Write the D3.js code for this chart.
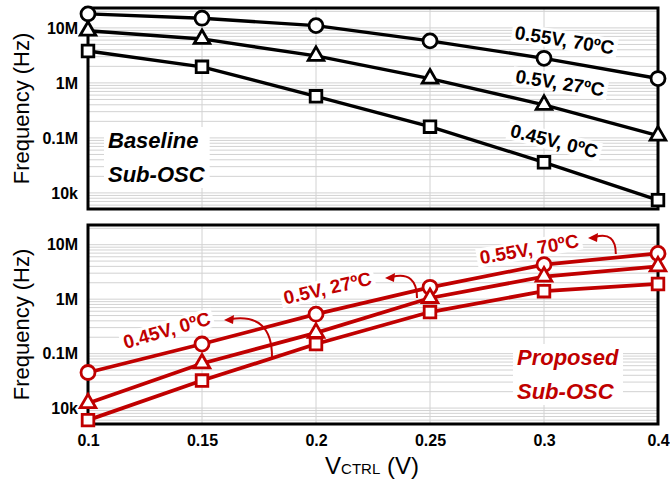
<!DOCTYPE html>
<html>
  <head>
    <meta charset="utf-8">
    <title>Sub-OSC frequency vs VCTRL</title>
    <script src="https://d3js.org/d3.v7.min.js"></script>
    <style>
      body { margin: 0; background: #fff; }
      text { font-family: "Liberation Sans", Arial, sans-serif; }
    </style>
  </head>
  <body>
    <div id="chart"></div>
    <script>
      // x categories (VCTRL, V) and y ticks
      const xLabels = ["0.1", "0.15", "0.2", "0.25", "0.3", "0.4"];
      const yTickVals = [1e4, 1e5, 1e6, 1e7];
      const yTickLabels = ["10k", "0.1M", "1M", "10M"];
      const cornerNames = ["0.55V, 70ºC", "0.5V, 27ºC", "0.45V, 0ºC"];

      // baseline Sub-OSC (Hz)
      const baseHot  = [18e6, 15e6, 11e6, 5.8e6, 2.8e6, 1.2e6];
      const baseTyp  = [8.9e6, 6.3e6, 3.1e6, 1.2e6, 0.4e6, 0.11e6];
      const baseCold = [3.8e6, 1.96e6, 0.57e6, 0.16e6, 36e3, 7.4e3];

      // proposed Sub-OSC (Hz)
      const propHot  = [45e3, 150e3, 530e3, 1.65e6, 4.3e6, 6.9e6];
      const propTyp  = [12.3e3, 66e3, 240e3, 1.05e6, 2.6e6, 4.0e6];
      const propCold = [6e3, 32e3, 150e3, 580e3, 1.4e6, 1.9e6];

      const width = 670, height = 482;
      const left = 88, right = 658;
      const red = "#c00000";

      const svg = d3.select("#chart").append("svg")
        .attr("width", width)
        .attr("height", height);

      // categories are evenly spaced, so index is used as position
      const x = d3.scaleLinear().domain([0, xLabels.length - 1]).range([left, right]);
      const yDomain = [5.1e3, 2.3e7];

      const shapes = [d3.symbolCircle, d3.symbolTriangle, d3.symbolSquare];
      const shapeSize = [154, 105, 135];

      function drawPanel(cfg) {
        const y = d3.scaleLog().domain(yDomain).range([cfg.bottom, cfg.top]);
        const g = svg.append("g");

        // grid
        g.append("g").selectAll("line")
          .data(y.ticks().filter(d => d >= yDomain[0] && d <= yDomain[1]))
          .join("line")
          .attr("x1", left).attr("x2", right)
          .attr("y1", d => y(d)).attr("y2", d => y(d))
          .attr("stroke", "#d2d2d2").attr("stroke-width", 1);
        g.append("g").selectAll("line")
          .data(d3.range(1, xLabels.length - 1))
          .join("line")
          .attr("x1", d => x(d)).attr("x2", d => x(d))
          .attr("y1", cfg.top).attr("y2", cfg.bottom)
          .attr("stroke", "#d2d2d2").attr("stroke-width", 1);

        // frame
        g.append("rect")
          .attr("x", left).attr("y", cfg.top)
          .attr("width", right - left).attr("height", cfg.bottom - cfg.top)
          .attr("fill", "none").attr("stroke", "#000").attr("stroke-width", 3);

        // y axis
        const ya = g.append("g")
          .attr("transform", `translate(${left},0)`)
          .call(d3.axisLeft(y).tickValues(yTickVals)
            .tickFormat((d, i) => yTickLabels[i]).tickSize(0).tickPadding(10));
        ya.select(".domain").remove();
        ya.selectAll("text")
          .style("font-family", "'Liberation Sans', Arial, sans-serif")
          .style("font-size", "16px").style("font-weight", "bold").attr("fill", "#000");

        g.append("text")
          .attr("transform", `translate(29,${(cfg.top + cfg.bottom) / 2}) rotate(-90)`)
          .attr("text-anchor", "middle")
          .style("font-size", "22px")
          .text("Frequency (Hz)");

        if (cfg.showX) {
          const xa = g.append("g")
            .attr("transform", `translate(0,${cfg.bottom})`)
            .call(d3.axisBottom(x).tickValues(d3.range(xLabels.length))
              .tickFormat(i => xLabels[i]).tickSize(0).tickPadding(11));
          xa.select(".domain").remove();
          xa.selectAll("text")
            .style("font-family", "'Liberation Sans', Arial, sans-serif")
            .style("font-size", "16px").style("font-weight", "bold").attr("fill", "#000");
        }

        // panel name, with white box behind
        const nameG = g.append("g");
        const nameT = nameG.append("text")
          .attr("fill", cfg.color)
          .style("font-size", "22px").style("font-weight", "bold").style("font-style", "italic");
        nameT.selectAll("tspan").data(cfg.name).join("tspan")
          .attr("x", cfg.nameX).attr("y", (d, i) => cfg.nameY + i * 34)
          .text(d => d);
        const nb = nameT.node().getBBox();
        nameG.insert("rect", "text")
          .attr("x", nb.x - 4).attr("y", nb.y - 1)
          .attr("width", nb.width + 8).attr("height", nb.height + 2)
          .attr("fill", "#fff");

        // corner labels
        cfg.labels.forEach((l, i) => {
          const lg = g.append("g")
            .attr("transform", `translate(${x(l.xi)},${y(l.f)}) rotate(${l.rot})`);
          const t = lg.append("text")
            .attr("text-anchor", "middle").attr("dy", "0.35em")
            .attr("fill", cfg.color)
            .style("font-size", "19px").style("font-weight", "bold")
            .text(cornerNames[i]);
          const b = t.node().getBBox();
          lg.insert("rect", "text")
            .attr("x", b.x - 3).attr("y", b.y + 1)
            .attr("width", b.width + 6).attr("height", b.height - 2)
            .attr("fill", "#fff");
        });

        // arrows
        (cfg.arrows || []).forEach(a => {
          const sx = x(a.from[0]), sy = y(a.from[1]);
          const tx = x(a.to[0]), ty = y(a.to[1]);
          g.append("path")
            .attr("d", `M${sx},${sy} Q${sx},${ty - 7} ${tx + 7},${ty - 1}`)
            .attr("fill", "none").attr("stroke", cfg.color).attr("stroke-width", 2);
          g.append("path")
            .attr("d", `M${tx},${ty} L${tx + 10},${ty - 5} L${tx + 9},${ty + 4} Z`)
            .attr("fill", cfg.color);
        });

        // lines and markers
        const line = d3.line().x((d, i) => x(i)).y(d => y(d));
        cfg.series.forEach((s, k) => {
          g.append("path")
            .datum(s)
            .attr("d", line)
            .attr("fill", "none").attr("stroke", cfg.color)
            .attr("stroke-width", cfg.lineW);
        });
        cfg.series.forEach((s, k) => {
          g.append("g").selectAll("path")
            .data(s)
            .join("path")
            .attr("transform", (d, i) => `translate(${x(i)},${y(d)})`)
            .attr("d", d3.symbol().type(shapes[k]).size(shapeSize[k]))
            .attr("fill", "#fff").attr("stroke", cfg.color).attr("stroke-width", 2.8);
        });
      }

      drawPanel({
        top: 8, bottom: 209, color: "#000", lineW: 3.4, showX: false,
        series: [baseHot, baseTyp, baseCold],
        name: ["Baseline", "Sub-OSC"], nameX: 108, nameY: 148,
        labels: [
          {xi: 4.18, f: 6.0e6, rot: 9},
          {xi: 4.14, f: 1.0e6, rot: 9},
          {xi: 4.09, f: 8.8e4, rot: 14}
        ]
      });

      drawPanel({
        top: 225, bottom: 424, color: red, lineW: 3.8, showX: true,
        series: [propHot, propTyp, propCold],
        name: ["Proposed", "Sub-OSC"], nameX: 517, nameY: 365,
        labels: [
          {xi: 3.87, f: 8.3e6, rot: -10},
          {xi: 2.10, f: 1.6e6, rot: -13},
          {xi: 0.69, f: 2.7e5, rot: -16}
        ],
        arrows: [
          {from: [4.63, 6.77e6], to: [4.386, 1.33e7]},
          {from: [2.886, 1.05e6], to: [2.605, 2.45e6]},
          {from: [1.614, 8.7e4], to: [1.193, 4.15e5]}
        ]
      });

      // x axis title with subscript
      const xt = svg.append("text")
        .attr("x", 372).attr("y", 474)
        .attr("text-anchor", "middle")
        .style("font-size", "24px");
      xt.append("tspan").text("V");
      xt.append("tspan").style("font-size", "15px").text("CTRL");
      xt.append("tspan").text(" (V)");
    </script>
  </body>
</html>
